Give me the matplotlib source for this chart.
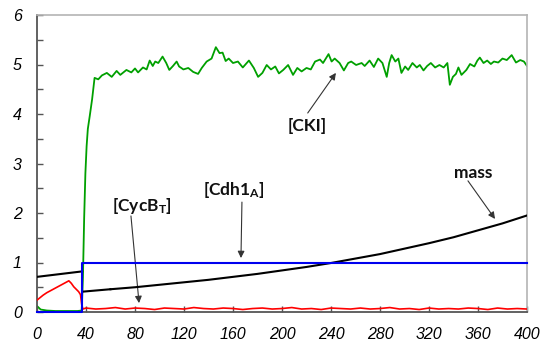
import numpy as np
import matplotlib
matplotlib.use('Agg')
import matplotlib.pyplot as plt
from matplotlib.ticker import MultipleLocator

# --- data ---
# [CKI] (green)
cki_t = [0, 3, 8, 15, 25, 33, 36.5, 37.5, 38.5, 39.5,
         40.5, 41.5, 43, 45, 47, 50, 53, 57, 61, 65,
         68, 73, 77, 80, 82.5, 86.5, 89.5, 92, 94.5, 96.5,
         99, 102.5, 105.5, 108, 111, 114, 116, 119.5, 123.5, 127.5,
         131.5, 134.5, 138.5, 142.5, 146, 149, 151.5, 154, 156.5, 160,
         164, 168, 173, 177, 180.5, 184, 187.5, 191, 194.5, 197.5,
         201, 205, 209, 212.5, 216, 220, 223.5, 227, 231, 233.5,
         238, 240.5, 243, 247, 250.5, 254, 256.5, 260.5, 265, 267.5,
         271.5, 275, 278.5, 282, 285.5, 287.5, 289.5, 292.5, 295, 297.5,
         300.5, 303, 306.5, 310, 312.5, 315.5, 318.5, 321.5, 325, 328.5,
         332, 335, 337, 339.5, 342, 344, 346.5, 350.5, 353.5, 357,
         359.5, 361.5, 364.5, 367.5, 370.5, 373, 376.5, 380, 383.5, 387.5,
         391, 394.5, 397.5, 400]
cki_v = [0.12, 0.05, 0.03, 0.02, 0.02, 0.02, 0.03, 0.70, 1.90, 2.80,
         3.35, 3.70, 3.95, 4.30, 4.73, 4.70, 4.78, 4.83, 4.75, 4.87,
         4.79, 4.89, 4.84, 4.92, 4.84, 4.94, 4.90, 5.08, 4.97, 5.06,
         5.03, 5.16, 5.03, 4.89, 4.97, 5.06, 4.96, 4.90, 4.93, 4.85,
         4.81, 4.93, 5.06, 5.12, 5.35, 5.23, 5.24, 5.07, 5.12, 5.03,
         5.06, 4.94, 5.08, 4.93, 4.75, 4.83, 4.99, 4.90, 4.96, 4.82,
         4.89, 4.99, 4.79, 4.93, 4.86, 4.93, 4.90, 5.06, 5.10, 5.03,
         5.21, 5.06, 5.12, 5.03, 4.88, 5.03, 5.06, 4.99, 5.03, 4.97,
         5.08, 4.95, 5.12, 5.03, 4.75, 5.03, 5.19, 5.06, 5.12, 4.83,
         4.96, 4.89, 5.03, 4.94, 4.99, 4.88, 4.97, 5.03, 4.94, 4.99,
         4.94, 5.03, 4.59, 4.75, 4.81, 4.94, 4.79, 4.89, 5.01, 4.96,
         5.08, 5.14, 5.03, 5.08, 5.01, 5.06, 5.04, 5.12, 5.09, 5.19,
         5.04, 5.09, 5.06, 4.97]

# [CycB_T] (red)
cycb_t = [0, 2, 5, 8, 11, 14, 17, 20, 23, 26,
          28, 30, 32, 34, 35.5, 36.5, 37.5,
          40, 48, 56, 64, 72, 80, 88, 96, 104, 112,
          120, 128, 136, 144, 152, 160, 168, 176, 184, 192,
          200, 208, 216, 224, 232, 240, 248, 256, 264, 272,
          280, 288, 296, 304, 312, 320, 328, 336, 344, 352,
          360, 368, 376, 384, 392, 400]
cycb_v = [0.24, 0.28, 0.34, 0.39, 0.43, 0.47, 0.51, 0.55, 0.59, 0.63,
          0.58, 0.51, 0.46, 0.41, 0.35, 0.15, 0.06,
          0.08, 0.06, 0.07, 0.09, 0.06, 0.08, 0.07, 0.05, 0.08, 0.07,
          0.06, 0.09, 0.07, 0.06, 0.08, 0.07, 0.05, 0.07, 0.08, 0.06,
          0.07, 0.09, 0.06, 0.07, 0.05, 0.08, 0.07, 0.06, 0.08, 0.06,
          0.07, 0.09, 0.06, 0.07, 0.05, 0.08, 0.06, 0.07, 0.06, 0.08,
          0.07, 0.05, 0.08, 0.06, 0.07, 0.06]

# mass (black), divides at t ~ 36.8
mass_t = [0, 36.8, 36.8, 60, 80, 100, 120, 140, 160, 180,
          200, 220, 240, 260, 280, 300, 320, 340, 360, 380, 400]
mass_v = [0.71, 0.82, np.nan, 0.46, 0.50, 0.55, 0.60, 0.65, 0.71, 0.77,
          0.84, 0.91, 0.99, 1.08, 1.17, 1.28, 1.39, 1.51, 1.65, 1.79, 1.95]
mass_t_after = [36.8, 60]
mass_v_after = [0.41, 0.46]

# [Cdh1_A] (blue)
cdh1_t = [0, 36.6, 36.6, 400]
cdh1_v = [0.0, 0.0, 1.0, 1.0]

x_ticks = [0, 40, 80, 120, 160, 200, 240, 280, 320, 360, 400]
y_ticks = [0, 1, 2, 3, 4, 5, 6]

# --- fonts ---
plt.rcParams['mathtext.fontset'] = 'custom'
plt.rcParams['mathtext.rm'] = 'Lato:bold'
plt.rcParams['mathtext.it'] = 'Lato:bold'
plt.rcParams['mathtext.bf'] = 'Lato:bold'

fig = plt.figure(figsize=(5.43, 3.47), dpi=100)
ax = fig.add_axes([37 / 543, 1 - 312 / 347, 490 / 543, 297 / 347])

ax.plot(cki_t, cki_v, color='#00a000', lw=1.3, zorder=2)
ax.plot(cycb_t, cycb_v, color='#ff0000', lw=1.2, zorder=3)
ax.plot(mass_t, mass_v, color='black', lw=1.5, zorder=4)
ax.plot(mass_t_after, mass_v_after, color='black', lw=1.5, zorder=4)
ax.plot(cdh1_t, cdh1_v, color='#0000ee', lw=1.5, zorder=5, clip_on=False)

ax.set_xlim(0, 400)
ax.set_ylim(0, 6)
ax.set_xticks(x_ticks)
ax.set_yticks(y_ticks)
ax.yaxis.set_minor_locator(MultipleLocator(0.5))
ax.tick_params(which='both', direction='in', length=4, width=1, color='#555555')
ax.tick_params(axis='y', pad=11)
ax.tick_params(axis='x', pad=11)
for lab in ax.get_xticklabels() + ax.get_yticklabels():
    lab.set_fontfamily('Liberation Sans')
    lab.set_fontstyle('italic')
    lab.set_fontsize(11.5)

for side in ['left', 'bottom']:
    ax.spines[side].set_color('#555555')
    ax.spines[side].set_linewidth(1.3)
for side in ['top', 'right']:
    ax.spines[side].set_color('#b4b4b4')
    ax.spines[side].set_linewidth(1.2)

# --- labels with arrows ---
lab_kw = dict(fontfamily='Lato', fontweight='bold', fontsize=12.5, ha='center', va='center', color='#111111')
arr_kw = dict(arrowstyle='-|>', color='#333333', lw=0.8, mutation_scale=10, shrinkA=0, shrinkB=0)

ax.text(220.4, 3.76, '[CKI]', **lab_kw)
ax.annotate('', xy=(244, 4.83), xytext=(221, 4.02), arrowprops=arr_kw)

ax.text(160.8, 2.46, r'[Cdh1$_\mathrm{A}$]', **lab_kw)
ax.annotate('', xy=(166.5, 1.09), xytext=(167.3, 2.22), arrowprops=arr_kw)

ax.text(85.7, 2.14, r'[CycB$_\mathrm{T}$]', **lab_kw)
ax.annotate('', xy=(83.3, 0.18), xytext=(76.7, 1.94), arrowprops=arr_kw)

ax.text(356, 2.81, 'mass', **lab_kw)
ax.annotate('', xy=(373.9, 1.88), xytext=(351.8, 2.65), arrowprops=arr_kw)

plt.savefig('out.png', dpi=100)
plt.close()
